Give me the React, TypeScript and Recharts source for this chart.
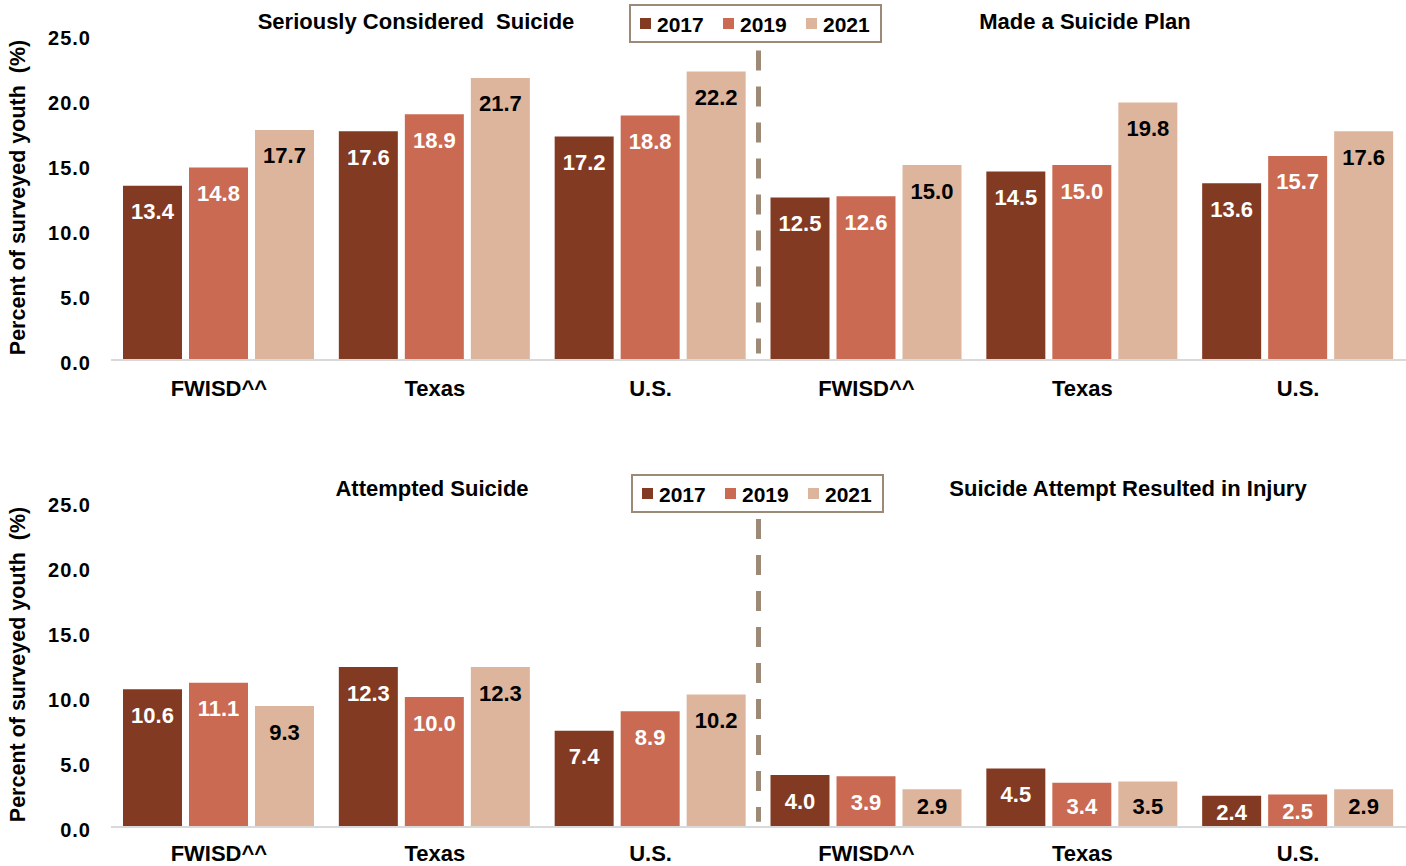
import React from 'react';
import {
  BarChart,
  Bar,
  XAxis,
  YAxis,
  LabelList,
  ReferenceLine,
  Customized,
  Label,
} from 'recharts';

// Categories shown along both panels (left half / right half of each chart)
const categories = ['FWISD^^', 'Texas', 'U.S.', 'FWISD^^', 'Texas', 'U.S.'];
const years = ['2017', '2019', '2021'];
const yTicks = [0, 5, 10, 15, 20, 25];

// Upper chart: seriously considered suicide (first 3) / made a suicide plan (last 3)
const upper2017 = [13.4, 17.6, 17.2, 12.5, 14.5, 13.6];
const upper2019 = [14.8, 18.9, 18.8, 12.6, 15.0, 15.7];
const upper2021 = [17.7, 21.7, 22.2, 15.0, 19.8, 17.6];

// Lower chart: attempted suicide (first 3) / attempt resulted in injury (last 3)
const lower2017 = [10.6, 12.3, 7.4, 4.0, 4.5, 2.4];
const lower2019 = [11.1, 10.0, 8.9, 3.9, 3.4, 2.5];
const lower2021 = [9.3, 12.3, 10.2, 2.9, 3.5, 2.9];

const upperTitles = ['Seriously Considered  Suicide', 'Made a Suicide Plan'];
const lowerTitles = ['Attempted Suicide', 'Suicide Attempt Resulted in Injury'];

const COLORS = ['#833a22', '#cb6a52', '#dcb59c'];
const LABEL_COLORS = ['#ffffff', '#ffffff', '#000000'];
const FONT = '"Liberation Sans", Arial, Helvetica, sans-serif';
const DIVIDER = '#9c8a77';

type Row = { idx: number; name: string; y2017: number; y2019: number; y2021: number };

const buildRows = (a: number[], b: number[], c: number[]): Row[] =>
  categories.map((name, i) => ({ idx: i, name, y2017: a[i], y2019: b[i], y2021: c[i] }));

const upperRows = buildRows(upper2017, upper2019, upper2021);
const lowerRows = buildRows(lower2017, lower2019, lower2021);

// Value sits inside the top of the bar; short bars keep it clear of the baseline
const makeValueLabel = (color: string) => (props: any) => {
  const { x, y, width, height, value } = props;
  const top = Number(y);
  const base = top + Number(height);
  const cy = Math.min(top + 26, Math.max(base - 21, top + 17));
  return (
    <text
      x={Number(x) + Number(width) / 2}
      y={cy}
      textAnchor="middle"
      dominantBaseline="central"
      fill={color}
      fontFamily={FONT}
      fontWeight={700}
      fontSize={22}
    >
      {Number(value).toFixed(1)}
    </text>
  );
};

const makeCategoryTick = (gap: number) => (props: any) => {
  const { x, y, payload } = props;
  return (
    <text
      x={x}
      y={Number(y) + gap}
      textAnchor="middle"
      dominantBaseline="central"
      fill="#000"
      fontFamily={FONT}
      fontWeight={700}
      fontSize={22}
    >
      {categories[payload.value]}
    </text>
  );
};

const ValueTick = (props: any) => {
  const { x, y, payload } = props;
  return (
    <text
      x={x}
      y={Number(y) + 3}
      textAnchor="end"
      dominantBaseline="central"
      fill="#000"
      fontFamily={FONT}
      fontWeight={700}
      fontSize={20}
      letterSpacing={1}
    >
      {Number(payload.value).toFixed(1)}
    </text>
  );
};

const AxisTitle = (props: any) => {
  const vb = props.viewBox || {};
  const cy = Number(vb.y) + Number(vb.height) / 2;
  return (
    <text
      x={18}
      y={cy}
      transform={`rotate(-90, 18, ${cy})`}
      textAnchor="middle"
      dominantBaseline="central"
      fill="#000"
      fontFamily={FONT}
      fontWeight={700}
      fontSize={21.5}
      style={{ whiteSpace: 'pre' }}
    >
      Percent of surveyed youth  (%)
    </text>
  );
};

type PanelProps = {
  rows: Row[];
  titles: string[];
  titleX: number[];
  height: number;
  bottomMargin: number;
  legendX: number;
  legendY: number;
  tickGap: number;
  dashFrom: number;
  dashTo: number;
};

const Headings = ({ titles, titleX, legendX, legendY }: any) => (
  <g fontFamily={FONT} fontWeight={700}>
    {titles.map((t: string, i: number) => (
      <text
        key={t}
        x={titleX[i]}
        y={21}
        textAnchor="middle"
        dominantBaseline="central"
        fontSize={22}
        fill="#000"
        style={{ whiteSpace: 'pre' }}
      >
        {t}
      </text>
    ))}
    <rect x={legendX} y={legendY} width={251} height={37} fill="#fff" stroke={DIVIDER} strokeWidth={2} />
    {years.map((yr, i) => {
      const sx = legendX + 10 + i * 83;
      return (
        <g key={yr}>
          <rect x={sx} y={legendY + 13} width={11} height={11} fill={COLORS[i]} />
          <text
            x={sx + 17}
            y={legendY + 19}
            dominantBaseline="central"
            fontSize={21}
            fill="#000"
          >
            {yr}
          </text>
        </g>
      );
    })}
  </g>
);

const Panel = (p: PanelProps) => (
  <BarChart
    width={1406}
    height={p.height}
    data={p.rows}
    margin={{ top: 35, right: 0, bottom: p.bottomMargin, left: 0 }}
    barCategoryGap={12}
    barGap={7}
  >
    <XAxis
      dataKey="idx"
      type="category"
      axisLine={{ stroke: '#d9d9d9', strokeWidth: 2 }}
      tickLine={false}
      tickSize={0}
      tickMargin={0}
      height={30}
      interval={0}
      tick={makeCategoryTick(p.tickGap)}
    />
    <YAxis
      domain={[0, 25]}
      ticks={yTicks}
      width={111}
      axisLine={false}
      tickLine={false}
      tickSize={0}
      tickMargin={20}
      tick={ValueTick}
      interval={0}
    >
      <Label content={AxisTitle} />
    </YAxis>
    <Bar dataKey="y2017" fill={COLORS[0]} isAnimationActive={false}>
      <LabelList dataKey="y2017" content={makeValueLabel(LABEL_COLORS[0])} />
    </Bar>
    <Bar dataKey="y2019" fill={COLORS[1]} isAnimationActive={false}>
      <LabelList dataKey="y2019" content={makeValueLabel(LABEL_COLORS[1])} />
    </Bar>
    <Bar dataKey="y2021" fill={COLORS[2]} isAnimationActive={false}>
      <LabelList dataKey="y2021" content={makeValueLabel(LABEL_COLORS[2])} />
    </Bar>
    {/* divider between the two survey questions: right edge of the third category band */}
    <ReferenceLine
      segment={[
        { x: 2, y: p.dashFrom },
        { x: 2, y: p.dashTo },
      ]}
      position="end"
      stroke={DIVIDER}
      strokeWidth={5}
      strokeDasharray="20 16"
      ifOverflow="visible"
    />
    <Customized
      component={() => (
        <Headings titles={p.titles} titleX={p.titleX} legendX={p.legendX} legendY={p.legendY} />
      )}
    />
  </BarChart>
);

export default function App() {
  return (
    <div style={{ position: 'absolute', left: 0, top: 0, width: 1406, height: 866, background: '#fff', overflow: 'hidden' }}>
      <Panel
        rows={upperRows}
        titles={upperTitles}
        titleX={[416, 1085]}
        height={467}
        bottomMargin={77}
        legendX={630}
        legendY={5}
        tickGap={28}
        dashFrom={23.8}
        dashTo={0.5}
      />
      <Panel
        rows={lowerRows}
        titles={lowerTitles}
        titleX={[432, 1128]}
        height={399}
        bottomMargin={9}
        legendX={632}
        legendY={8}
        tickGap={26}
        dashFrom={23.7}
        dashTo={0.4}
      />
    </div>
  );
}
